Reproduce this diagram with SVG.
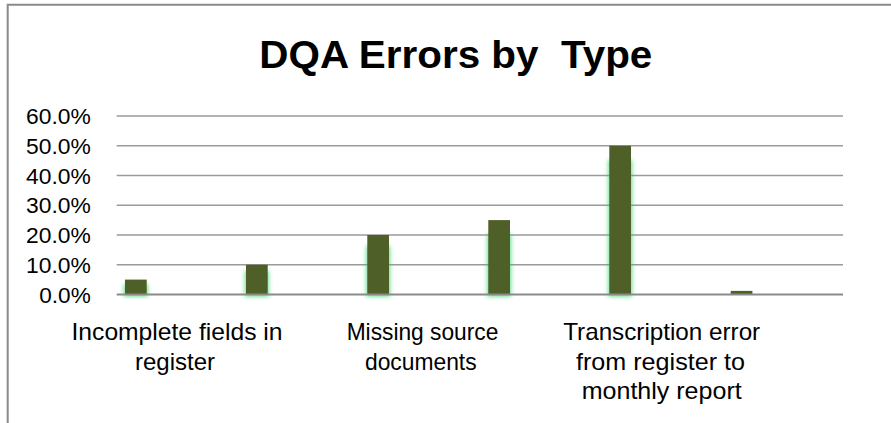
<svg xmlns="http://www.w3.org/2000/svg" width="891" height="423" viewBox="0 0 891 423">
  <style>
    .frame { stroke: #8a8a8a; stroke-width: 2; fill: none; }
    .grid { stroke: #9a9a9a; stroke-width: 1.6; }
    .axis { stroke: #8a8a8a; stroke-width: 2; }
    .bar { fill: #4f5f28; }
    .glow { fill: #22d160; opacity: 0.7; filter: url(#blur); }
    .ylab { font-family: "Liberation Sans", Arial, sans-serif; font-size: 21.5px; fill: #000; text-anchor: end; }
    .clab { font-family: "Liberation Sans", Arial, sans-serif; font-size: 24px; fill: #000; text-anchor: middle; }
    .title { font-family: "Liberation Sans", Arial, sans-serif; font-size: 38.5px; font-weight: bold; fill: #000; }
  </style>
  <defs>
    <filter id="blur" x="-50%" y="-20%" width="200%" height="140%">
      <feGaussianBlur stdDeviation="2.2"/>
    </filter>
  </defs>
  <rect width="891" height="423" fill="#fff"/>
  <g id="frame">
    <polyline class="frame" points="891,4.7 7.7,4.7 7.7,423"/>
  </g>
  <g id="title">
    <text class="title" x="259.3" y="67.7" textLength="393" lengthAdjust="spacingAndGlyphs" xml:space="preserve">DQA Errors by  Type</text>
  </g>
  <g id="gridlines">
    <line class="grid" x1="116.7" y1="116" x2="843" y2="116"/>
    <line class="grid" x1="116.7" y1="145.75" x2="843" y2="145.75"/>
    <line class="grid" x1="116.7" y1="175.5" x2="843" y2="175.5"/>
    <line class="grid" x1="116.7" y1="205.25" x2="843" y2="205.25"/>
    <line class="grid" x1="116.7" y1="235" x2="843" y2="235"/>
    <line class="grid" x1="116.7" y1="264.75" x2="843" y2="264.75"/>
  </g>
  <g id="y-axis-labels">
    <text class="ylab" x="90.7" y="124" textLength="64.7" lengthAdjust="spacingAndGlyphs">60.0%</text>
    <text class="ylab" x="90.7" y="153.75" textLength="64.7" lengthAdjust="spacingAndGlyphs">50.0%</text>
    <text class="ylab" x="90.7" y="183.5" textLength="64.7" lengthAdjust="spacingAndGlyphs">40.0%</text>
    <text class="ylab" x="90.7" y="213.25" textLength="64.7" lengthAdjust="spacingAndGlyphs">30.0%</text>
    <text class="ylab" x="90.7" y="243" textLength="64.7" lengthAdjust="spacingAndGlyphs">20.0%</text>
    <text class="ylab" x="90.7" y="272.75" textLength="64.7" lengthAdjust="spacingAndGlyphs">10.0%</text>
    <text class="ylab" x="90.7" y="302.5" textLength="51.4" lengthAdjust="spacingAndGlyphs">0.0%</text>
  </g>
  <g id="bars">
    <g id="bar1">
      <rect class="glow" x="124" y="284" width="23.7" height="12.5"/>
      <rect class="bar" x="125" y="279.6" width="21.7" height="14.9"/>
    </g>
    <g id="bar2">
      <rect class="glow" x="245" y="271" width="23.7" height="25.5"/>
      <rect class="bar" x="246" y="264.75" width="21.7" height="29.75"/>
    </g>
    <g id="bar3">
      <rect class="glow" x="366.3" y="246" width="23.7" height="50.5"/>
      <rect class="bar" x="367.3" y="235" width="21.7" height="59.5"/>
    </g>
    <g id="bar4">
      <rect class="glow" x="487.3" y="234" width="23.7" height="62.5"/>
      <rect class="bar" x="488.3" y="220.1" width="21.7" height="74.4"/>
    </g>
    <g id="bar5">
      <rect class="glow" x="608.3" y="160" width="23.7" height="136.5"/>
      <rect class="bar" x="609.3" y="145.75" width="21.7" height="148.75"/>
    </g>
    <g id="bar6">
      <rect class="bar" x="730.7" y="290.9" width="21.7" height="3.6"/>
    </g>
  </g>
  <g id="axis">
    <line class="axis" x1="116.7" y1="294.5" x2="843" y2="294.5"/>
  </g>
  <g id="category-labels">
    <text class="clab" x="177" y="340" textLength="211" lengthAdjust="spacingAndGlyphs">Incomplete fields in</text>
    <text class="clab" x="175" y="369.5" textLength="80" lengthAdjust="spacingAndGlyphs">register</text>
    <text class="clab" x="422.5" y="340" textLength="151.7" lengthAdjust="spacingAndGlyphs">Missing source</text>
    <text class="clab" x="420.8" y="369.5" textLength="111.7" lengthAdjust="spacingAndGlyphs">documents</text>
    <text class="clab" x="661.7" y="340" textLength="197" lengthAdjust="spacingAndGlyphs">Transcription error</text>
    <text class="clab" x="660.5" y="369.5" textLength="169" lengthAdjust="spacingAndGlyphs">from register to</text>
    <text class="clab" x="661.7" y="399.3" textLength="160" lengthAdjust="spacingAndGlyphs">monthly report</text>
  </g>
</svg>
